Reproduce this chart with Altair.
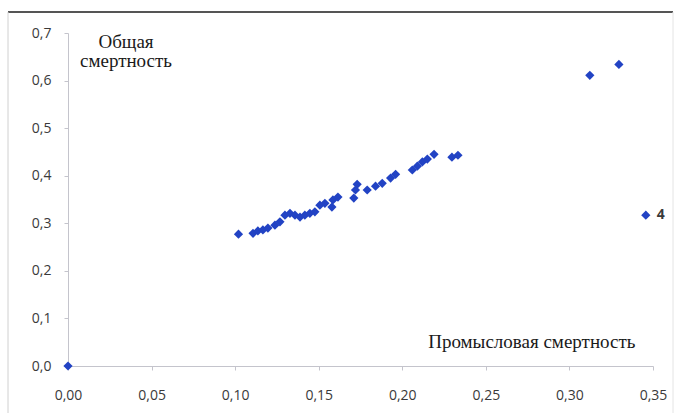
import altair as alt
import pandas as pd

# Fishing mortality (x) vs total mortality (y)
fishing = [0.000, 0.102, 0.1107, 0.1136, 0.1166, 0.1196, 0.1238, 0.1268, 0.1298,
           0.1328, 0.1358, 0.1388, 0.1417, 0.1447, 0.1477, 0.1507, 0.1537, 0.1579,
           0.1585, 0.1615, 0.171, 0.172, 0.173, 0.179, 0.184, 0.188, 0.193, 0.196,
           0.206, 0.209, 0.212, 0.215, 0.219, 0.2297, 0.2333, 0.3122, 0.3296, 0.3457]
total = [0.000, 0.277, 0.279, 0.284, 0.286, 0.290, 0.296, 0.303, 0.317,
         0.321, 0.317, 0.313, 0.317, 0.321, 0.324, 0.338, 0.342, 0.334,
         0.349, 0.355, 0.353, 0.370, 0.382, 0.370, 0.378, 0.384, 0.395, 0.403,
         0.412, 0.420, 0.429, 0.435, 0.445, 0.439, 0.443, 0.611, 0.634, 0.317]
point_labels = [""] * 37 + ["4"]

# Axis captions drawn inside the plot
captions = ["Общая", "смертность", "Промысловая смертность"]
caption_x = [0.0347, 0.0347, 0.2775]
caption_y = [0.668, 0.628, 0.0378]

df = pd.DataFrame({"f": fishing, "z": total, "lab": point_labels})

W, H = 585, 333
BLUE = "#2243c4"
SERIF = "Liberation Serif"
SANS = "Open Sans"

xs = alt.Scale(domain=[0, 0.35], nice=False, zero=False)
ys = alt.Scale(domain=[0, 0.7], nice=False, zero=False)

x_axis = alt.Axis(values=[0, 0.05, 0.1, 0.15, 0.2, 0.25, 0.3, 0.35],
                  labelExpr="replace(format(datum.value, '.2f'), '.', ',')",
                  grid=False, domainColor="#c4c4cc", tickColor="#c4c4cc",
                  tickSize=4, labelPadding=18, labelFontSize=14, labelFont=SANS,
                  labelColor="#3a3a3a", labelFlush=False, labelOverlap=False,
                  title=None)
y_axis = alt.Axis(values=[0, 0.1, 0.2, 0.3, 0.4, 0.5, 0.6, 0.7],
                  labelExpr="replace(format(datum.value, '.1f'), '.', ',')",
                  grid=False, domainColor="#c4c4cc", tickColor="#c4c4cc",
                  tickSize=4, labelPadding=13, labelFontSize=14, labelFont=SANS,
                  labelColor="#3a3a3a", labelFlush=False, labelOverlap=False,
                  title=None)

points = alt.Chart(df).mark_point(
    shape="diamond", filled=True, size=85, color=BLUE, opacity=1
).encode(
    x=alt.X("f:Q", scale=xs, axis=x_axis),
    y=alt.Y("z:Q", scale=ys, axis=y_axis),
)

point_text = alt.Chart(df).mark_text(
    align="left", baseline="middle", dx=11, dy=0, fontSize=14,
    font=SANS, fontWeight="bold", color="#3a3a3a", clip=False
).encode(x=alt.X("f:Q", scale=xs), y=alt.Y("z:Q", scale=ys), text="lab:N")

ann = pd.DataFrame({"f": caption_x, "z": caption_y, "t": captions})
ann_text = alt.Chart(ann).mark_text(
    align="center", baseline="alphabetic", fontSize=19, font=SERIF,
    color="#1a1a1a"
).encode(x=alt.X("f:Q", scale=xs), y=alt.Y("z:Q", scale=ys), text="t:N")

# Outer frame around the whole chart
frame_top = alt.Chart(df.head(1)).mark_rule(color="#555555", strokeWidth=2, clip=False).encode(
    x=alt.value(-60), x2=alt.value(605), y=alt.value(-21))
frame_left = alt.Chart(df.head(1)).mark_rule(color="#d0d0d0", strokeWidth=1, clip=False).encode(
    x=alt.value(-60), y=alt.value(-21), y2=alt.value(400))
frame_right = alt.Chart(df.head(1)).mark_rule(color="#e4e4e4", strokeWidth=1, clip=False).encode(
    x=alt.value(605), y=alt.value(-21), y2=alt.value(400))

chart = alt.layer(
    frame_top, frame_left, frame_right, points, point_text, ann_text
).properties(
    width=W, height=H,
    autosize=alt.AutoSizeParams(type="none"),
    padding={"left": 68, "top": 33, "right": 26, "bottom": 47},
    background="white",
).configure_view(stroke=None)

chart.save("out.html", embed_options={"renderer": "svg", "actions": False})
